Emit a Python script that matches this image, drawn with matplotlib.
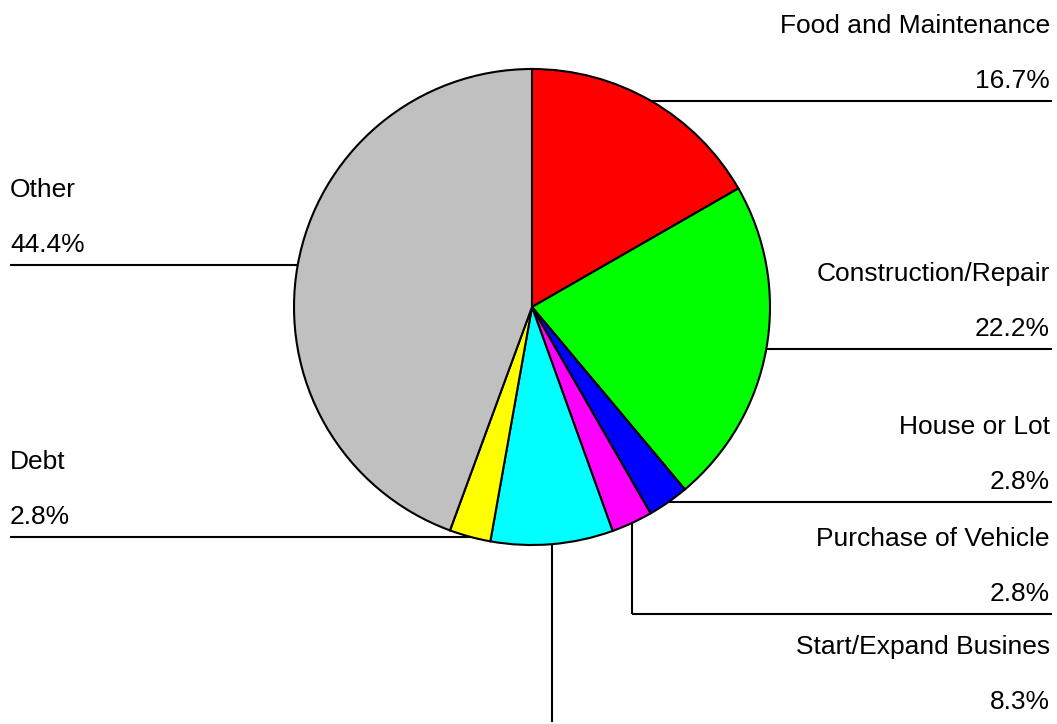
import numpy as np
import matplotlib.pyplot as plt

plt.rcParams['font.family'] = ['Liberation Sans', 'DejaVu Sans']

labels = ["Food and Maintenance", "Construction/Repair", "House or Lot",
          "Purchase of Vehicle", "Start/Expand Busines", "Debt", "Other"]
values = [16.7, 22.2, 2.8, 2.8, 8.3, 2.8, 44.4]
colors = ["#ff0000", "#00ff00", "#0000ff", "#ff00ff", "#00ffff", "#ffff00", "#c0c0c0"]

# label layout: which side, and where the leader line turns (None = at the slice)
sides = ["right", "right", "right", "right", "right", "left", "left"]
elbow_y = [None, None, None, 110, 2, None, None]

W, H = 1057, 724
cx, cy, r = 532, H - 307, 238

fig = plt.figure(figsize=(W / 100, H / 100), dpi=100)
ax = fig.add_axes([0, 0, 1, 1])
wedges, _ = ax.pie(values, colors=colors, startangle=90, counterclock=False,
                   center=(cx, cy), radius=r,
                   wedgeprops=dict(edgecolor="black", linewidth=1.5))
ax.set_xlim(0, W)
ax.set_ylim(0, H)
ax.set_aspect("auto")
ax.axis("off")

lw = 1.5
for w, lab, val, side, ey in zip(wedges, labels, values, sides, elbow_y):
    mid = np.deg2rad((w.theta1 + w.theta2) / 2)
    px = cx + r * np.cos(mid)
    py = cy + r * np.sin(mid)
    if ey is None:
        ly = py
        x_end = 1052 if side == "right" else 10
        ax.plot([px, x_end], [ly, ly], color="black", lw=lw, solid_capstyle="butt")
    else:
        ly = ey
        ax.plot([px, px], [py, ly], color="black", lw=lw, solid_capstyle="butt")
        if ey > 5:
            ax.plot([px, 1052], [ly, ly], color="black", lw=lw, solid_capstyle="butt")
    if side == "right":
        tx, ha = 1050, "right"
    else:
        tx, ha = 10, "left"
    ax.text(tx, ly + 20, f"{val:.1f}%", ha=ha, va="center", fontsize=19)
    ax.text(tx, ly + 75, lab, ha=ha, va="center", fontsize=19)

fig.savefig("out.png", dpi=100)
